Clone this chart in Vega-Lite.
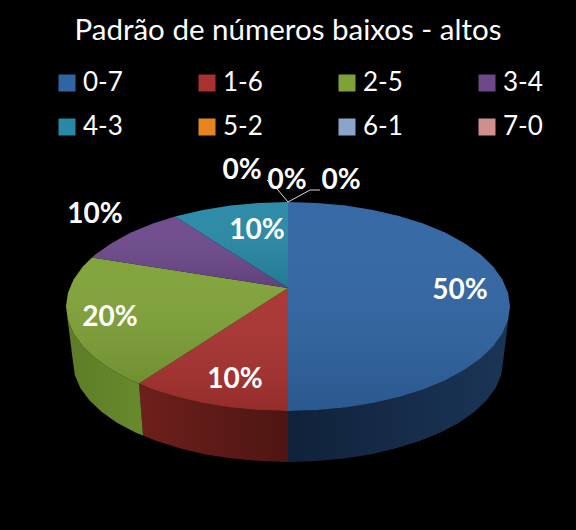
{
  "$schema": "https://vega.github.io/schema/vega-lite/v6.json",
  "width": 576,
  "height": 530,
  "padding": 0,
  "autosize": "none",
  "background": "#000000",
  "config": {"view": {"stroke": null}, "font": "Lato"},
  "title": {
    "text": "Padrão de números baixos - altos",
    "color": "#ffffff",
    "font": "Lato",
    "fontSize": 29.5,
    "fontWeight": "normal",
    "anchor": "middle",
    "offset": -46
  },
  "datasets": {
    "faces": [
      {"s":"0-7","x":0,"y":18.5},{"s":"0-7","x":0,"y":104.5},{"s":"0-7","x":29,"y":103.6},{"s":"0-7","x":57.5,"y":100.9},{"s":"0-7","x":85,"y":96.5},{"s":"0-7","x":111,"y":90.5},{"s":"0-7","x":135.1,"y":82.9},{"s":"0-7","x":157,"y":73.9},{"s":"0-7","x":176.1,"y":63.6},{"s":"0-7","x":192.3,"y":52.3},{"s":"0-7","x":205.1,"y":40},{"s":"0-7","x":214.4,"y":27},{"s":"0-7","x":220.1,"y":13.6},{"s":"0-7","x":222,"y":0},{"s":"0-7","x":220.1,"y":-13.6},{"s":"0-7","x":214.4,"y":-27},{"s":"0-7","x":205.1,"y":-40},{"s":"0-7","x":192.3,"y":-52.3},{"s":"0-7","x":176.1,"y":-63.6},{"s":"0-7","x":157,"y":-73.9},{"s":"0-7","x":135.1,"y":-82.9},{"s":"0-7","x":111,"y":-90.5},{"s":"0-7","x":85,"y":-96.5},{"s":"0-7","x":57.5,"y":-100.9},{"s":"0-7","x":29,"y":-103.6},{"s":"0-7","x":0,"y":-104.5},
      {"s":"1-6","x":0,"y":18.5},{"s":"1-6","x":0,"y":-104.5},{"s":"1-6","x":-29,"y":-103.6},{"s":"1-6","x":-57.5,"y":-100.9},{"s":"1-6","x":-85,"y":-96.5},{"s":"1-6","x":-111,"y":-90.5},{"s":"1-6","x":-135.1,"y":-82.9},{"s":"1-6","x":-149,"y":-77},
      {"s":"2-5","x":0,"y":18.5},{"s":"2-5","x":-149,"y":-77},{"s":"2-5","x":-157,"y":-73.9},{"s":"2-5","x":-176.1,"y":-63.6},{"s":"2-5","x":-192.3,"y":-52.3},{"s":"2-5","x":-205.1,"y":-40},{"s":"2-5","x":-214.4,"y":-27},{"s":"2-5","x":-220.1,"y":-13.6},{"s":"2-5","x":-222,"y":0},{"s":"2-5","x":-220.1,"y":13.6},{"s":"2-5","x":-214.4,"y":27},{"s":"2-5","x":-205.1,"y":40},{"s":"2-5","x":-196,"y":49},
      {"s":"3-4","x":0,"y":18.5},{"s":"3-4","x":-196,"y":49},{"s":"3-4","x":-192.3,"y":52.3},{"s":"3-4","x":-176.1,"y":63.6},{"s":"3-4","x":-157,"y":73.9},{"s":"3-4","x":-135.1,"y":82.9},{"s":"3-4","x":-113,"y":90},
      {"s":"4-3","x":0,"y":18.5},{"s":"4-3","x":-113,"y":90},{"s":"4-3","x":-111,"y":90.5},{"s":"4-3","x":-85,"y":96.5},{"s":"4-3","x":-57.5,"y":100.9},{"s":"4-3","x":-29,"y":103.6},{"s":"4-3","x":0,"y":104.5}
    ],
    "walls": [
      {"s":"0-7","x":222,"y":0},{"s":"0-7","x":220.1,"y":-13.6},{"s":"0-7","x":214.4,"y":-27},{"s":"0-7","x":205.1,"y":-40},{"s":"0-7","x":192.3,"y":-52.3},{"s":"0-7","x":176.1,"y":-63.6},{"s":"0-7","x":157,"y":-73.9},{"s":"0-7","x":135.1,"y":-82.9},{"s":"0-7","x":111,"y":-90.5},{"s":"0-7","x":85,"y":-96.5},{"s":"0-7","x":57.5,"y":-100.9},{"s":"0-7","x":29,"y":-103.6},{"s":"0-7","x":0,"y":-104.5},{"s":"0-7","x":0,"y":-155.5},{"s":"0-7","x":28.1,"y":-154.6},{"s":"0-7","x":55.6,"y":-152.1},{"s":"0-7","x":82.3,"y":-147.9},{"s":"0-7","x":107.5,"y":-142.1},{"s":"0-7","x":130.9,"y":-134.8},{"s":"0-7","x":152,"y":-126.2},{"s":"0-7","x":170.6,"y":-116.4},{"s":"0-7","x":186.2,"y":-105.5},{"s":"0-7","x":198.6,"y":-93.8},{"s":"0-7","x":207.7,"y":-81.4},{"s":"0-7","x":213.2,"y":-68.6},{"s":"0-7","x":215,"y":-55.5},
      {"s":"1-6","x":0,"y":-104.5},{"s":"1-6","x":-29,"y":-103.6},{"s":"1-6","x":-57.5,"y":-100.9},{"s":"1-6","x":-85,"y":-96.5},{"s":"1-6","x":-111,"y":-90.5},{"s":"1-6","x":-135.1,"y":-82.9},{"s":"1-6","x":-149,"y":-77},{"s":"1-6","x":-145,"y":-129},{"s":"1-6","x":-130.9,"y":-134.8},{"s":"1-6","x":-107.5,"y":-142.1},{"s":"1-6","x":-82.3,"y":-147.9},{"s":"1-6","x":-55.6,"y":-152.1},{"s":"1-6","x":-28.1,"y":-154.6},{"s":"1-6","x":0,"y":-155.5},
      {"s":"2-5","x":-149,"y":-77},{"s":"2-5","x":-157,"y":-73.9},{"s":"2-5","x":-176.1,"y":-63.6},{"s":"2-5","x":-192.3,"y":-52.3},{"s":"2-5","x":-205.1,"y":-40},{"s":"2-5","x":-214.4,"y":-27},{"s":"2-5","x":-220.1,"y":-13.6},{"s":"2-5","x":-222,"y":0},{"s":"2-5","x":-215,"y":-55.5},{"s":"2-5","x":-213.2,"y":-68.6},{"s":"2-5","x":-207.7,"y":-81.4},{"s":"2-5","x":-198.6,"y":-93.8},{"s":"2-5","x":-186.2,"y":-105.5},{"s":"2-5","x":-170.6,"y":-116.4},{"s":"2-5","x":-152,"y":-126.2},{"s":"2-5","x":-145,"y":-129}
    ],
    "leaders": [
      {"k":"a","x":0,"y":104.5},{"k":"a","x":-10,"y":116.5},{"k":"a","x":-21,"y":126.5},
      {"k":"b","x":0,"y":104.5},{"k":"b","x":22,"y":116.5},{"k":"b","x":32,"y":116.5}
    ],
    "labels": [
      {"t":"50%","x":172,"y":17.5},
      {"t":"10%","x":-53,"y":-71.5},
      {"t":"20%","x":-178,"y":-9.5},
      {"t":"10%","x":-193,"y":93.5},
      {"t":"10%","x":-31,"y":77.5},
      {"t":"0%","x":-46,"y":137.5},
      {"t":"0%","x":-1,"y":127.5},
      {"t":"0%","x":53,"y":127.5}
    ]
  },
  "encoding": {
    "x": {"field": "x", "type": "quantitative", "axis": null, "scale": {"domain": [-288, 288]}},
    "y": {"field": "y", "type": "quantitative", "axis": null, "scale": {"domain": [-223.5, 306.5]}}
  },
  "layer": [
    {
      "data": {"name": "walls"},
      "transform": [{"filter": "datum.s === '0-7'"}],
      "mark": {"type": "line", "filled": true, "strokeWidth": 0, "color": {"gradient": "linear", "x1": 0, "y1": 0, "x2": 1, "y2": 0, "stops": [{"offset": 0, "color": "#10223a"}, {"offset": 1, "color": "#1b3557"}]}},
      "encoding": {"order": {"value": null}}
    },
    {
      "data": {"name": "walls"},
      "transform": [{"filter": "datum.s === '1-6'"}],
      "mark": {"type": "line", "filled": true, "strokeWidth": 0, "color": {"gradient": "linear", "x1": 0, "y1": 0, "x2": 1, "y2": 0, "stops": [{"offset": 0, "color": "#6e201c"}, {"offset": 1, "color": "#4e1512"}]}},
      "encoding": {"order": {"value": null}}
    },
    {
      "data": {"name": "walls"},
      "transform": [{"filter": "datum.s === '2-5'"}],
      "mark": {"type": "line", "filled": true, "strokeWidth": 0, "color": {"gradient": "linear", "x1": 0, "y1": 0, "x2": 1, "y2": 0, "stops": [{"offset": 0, "color": "#5c7d26"}, {"offset": 1, "color": "#68892d"}]}},
      "encoding": {"order": {"value": null}}
    },
    {
      "data": {"name": "faces"},
      "mark": {"type": "line", "filled": true, "strokeWidth": 0},
      "encoding": {
        "order": {"value": null},
        "color": {
          "field": "s",
          "type": "nominal",
          "scale": {
            "domain": ["0-7", "1-6", "2-5", "3-4", "4-3", "5-2", "6-1", "7-0"],
            "range": ["#3065a3", "#a83230", "#7fa238", "#6d498c", "#2789a6", "#e58421", "#8ca4ca", "#cf8f8e"]
          },
          "legend": {
            "orient": "none",
            "legendX": 54,
            "legendY": 70,
            "direction": "horizontal",
            "columns": 4,
            "title": null,
            "symbolType": "square",
            "symbolSize": 289,
            "symbolStrokeWidth": 0,
            "labelColor": "#ffffff",
            "labelFont": "Lato",
            "labelFontSize": 26,
            "labelOffset": 3,
            "columnPadding": 71,
            "rowPadding": 18,
            "labelLimit": 100
          }
        }
      }
    },
    {
      "data": {"name": "faces"},
      "mark": {"type": "line", "filled": true, "strokeWidth": 0, "color": {"gradient": "linear", "x1": 0, "y1": 0, "x2": 0, "y2": 1, "stops": [{"offset": 0, "color": "rgba(255,255,255,0.03)"}, {"offset": 1, "color": "rgba(0,0,0,0.12)"}]}},
      "encoding": {
        "order": {"value": null},
        "detail": {"field": "s", "type": "nominal"}
      }
    },
    {
      "data": {"name": "leaders"},
      "mark": {"type": "line", "color": "#d9d9d9", "strokeWidth": 1},
      "encoding": {
        "order": {"value": null},
        "detail": {"field": "k", "type": "nominal"}
      }
    },
    {
      "data": {"name": "labels"},
      "mark": {"type": "text", "color": "#ffffff", "font": "Lato", "fontSize": 28, "fontWeight": "bold", "align": "center", "baseline": "middle", "dy": 2},
      "encoding": {
        "text": {"field": "t", "type": "nominal"}
      }
    }
  ]
}
